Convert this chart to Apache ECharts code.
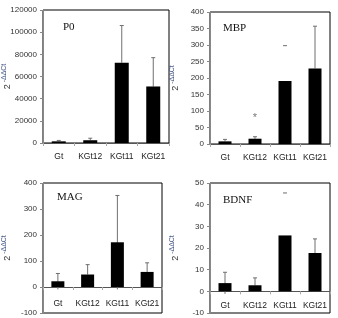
<!DOCTYPE html>
<html>
<head>
<meta charset="utf-8">
<script src="https://cdn.jsdelivr.net/npm/echarts@6/dist/echarts.min.js"></script>
<style>
  html, body { margin: 0; padding: 0; background: #fff; }
  #chart { width: 338px; height: 318px; }
</style>
</head>
<body>
<div id="chart"></div>
<script>
  // categories shared by all four panels
  const categories = ['Gt', 'KGt12', 'KGt11', 'KGt21'];

  // P0
  const p0Values = [1500, 2500, 72500, 51000];
  const p0ErrHigh = [2300, 4300, 106000, 77000];
  const p0Ticks = [0, 20000, 40000, 60000, 80000, 100000, 120000];

  // MBP
  const mbpValues = [8, 16, 191, 229];
  const mbpErrHigh = [14, 22, 298, 357];
  const mbpCapOnly = [false, false, true, false];
  const mbpStar = [[1, 78]];
  const mbpTicks = [0, 50, 100, 150, 200, 250, 300, 350, 400];

  // MAG
  const magValues = [22, 48, 172, 58];
  const magErrHigh = [52, 86, 352, 93];
  const magErrLow = [-9, null, -9, null];
  const magTicks = [-100, 0, 100, 200, 300, 400];

  // BDNF
  const bdnfValues = [3.8, 2.8, 25.8, 17.7];
  const bdnfErrHigh = [8.8, 6.2, 45.4, 24.2];
  const bdnfErrLow = [-1.2, null, null, null];
  const bdnfCapOnly = [false, false, true, false];
  const bdnfTicks = [-10, 0, 10, 20, 30, 40, 50];

  const labelFont = 'Liberation Sans, Arial, sans-serif';
  const titleFont = 'Liberation Serif, Times New Roman, serif';

  function errData(values, high, low, capOnly) {
    return values.map(function (v, i) {
      return [i, v, high[i], low && low[i] != null ? low[i] : NaN, capOnly && capOnly[i] ? 1 : 0];
    });
  }

  function errRender(params, api) {
    const x = api.value(0);
    const v = api.coord([x, api.value(1)]);
    const hi = api.coord([x, api.value(2)]);
    const lo = api.value(3);
    const capOnly = api.value(4);
    const style = { stroke: '#6f6f6f', lineWidth: 1 };
    const kids = [];
    if (!capOnly) {
      kids.push({ type: 'line', shape: { x1: v[0], y1: v[1], x2: hi[0], y2: hi[1] }, style: style });
    }
    kids.push({ type: 'line', shape: { x1: hi[0] - 2, y1: hi[1], x2: hi[0] + 2, y2: hi[1] }, style: style });
    if (!isNaN(lo)) {
      const l = api.coord([x, lo]);
      kids.push({ type: 'line', shape: { x1: v[0], y1: v[1], x2: l[0], y2: l[1] }, style: style });
    }
    return { type: 'group', children: kids };
  }

  function yAxis(idx, ticks) {
    return {
      gridIndex: idx,
      type: 'value',
      min: ticks[0],
      max: ticks[ticks.length - 1],
      interval: ticks[1] - ticks[0],
      splitLine: { show: false },
      axisLine: { show: true, lineStyle: { color: '#888' } },
      axisTick: { show: true, length: 3, lineStyle: { color: '#888' } },
      axisLabel: {
        fontSize: 8, color: '#333', fontFamily: labelFont, margin: 6,
        formatter: function (v) { return String(v); }
      },
      name: '{a|2}{b| -ΔΔCt}',
      nameLocation: 'middle',
      nameRotate: 90,
      nameGap: idx % 2 === 0 ? 31 : 30,
      nameMoveOverlap: false,
      nameTextStyle: {
        color: '#333',
        fontFamily: labelFont,
        rich: {
          a: { fontSize: 9, color: '#333', fontFamily: labelFont, verticalAlign: 'bottom' },
          b: { fontSize: 7, color: '#4a5a8a', fontFamily: labelFont, verticalAlign: 'top', padding: [0, 0, 4, 0] }
        }
      }
    };
  }

  function xAxis(idx, margin) {
    return {
      gridIndex: idx,
      type: 'category',
      data: categories,
      axisLine: { show: true, onZero: true, lineStyle: { color: '#555' } },
      axisTick: { show: true, length: 3, lineStyle: { color: '#aaa' } },
      axisLabel: { fontSize: 8.5, color: '#222', fontFamily: labelFont, margin: margin, interval: 0 }
    };
  }

  function bars(idx, values, width) {
    return {
      type: 'bar',
      xAxisIndex: idx,
      yAxisIndex: idx,
      data: values,
      barWidth: width,
      itemStyle: { color: '#000' },
      z: 3
    };
  }

  function errs(idx, values, high, low, capOnly) {
    return {
      type: 'custom',
      xAxisIndex: idx,
      yAxisIndex: idx,
      data: errData(values, high, low, capOnly),
      renderItem: errRender,
      z: 2
    };
  }

  const gridBase = {
    show: true, borderColor: '#000', borderWidth: 1, backgroundColor: '#fff',
    containLabel: false, outerBoundsMode: 'none'
  };

  const chart = echarts.init(document.getElementById('chart'), null, { renderer: 'canvas' });

  const option = {
    animation: false,
    backgroundColor: '#fff',
    title: [
      { text: 'P0', left: 58, top: 17, textStyle: { fontFamily: titleFont, fontSize: 11, fontWeight: 'normal', color: '#111' } },
      { text: 'MBP', left: 218, top: 18, textStyle: { fontFamily: titleFont, fontSize: 11, fontWeight: 'normal', color: '#111' } },
      { text: 'MAG', left: 52, top: 187, textStyle: { fontFamily: titleFont, fontSize: 11, fontWeight: 'normal', color: '#111' } },
      { text: 'BDNF', left: 218, top: 190, textStyle: { fontFamily: titleFont, fontSize: 11, fontWeight: 'normal', color: '#111' } }
    ],
    grid: [
      Object.assign({ left: 43, top: 10, right: 169, bottom: 175 }, gridBase),
      Object.assign({ left: 210, top: 12, right: 8, bottom: 174 }, gridBase),
      Object.assign({ left: 43, top: 183, right: 176, bottom: 5 }, gridBase),
      Object.assign({ left: 210, top: 183, right: 8, bottom: 5 }, gridBase)
    ],
    xAxis: [xAxis(0, 9), xAxis(1, 9), xAxis(2, -14), xAxis(3, -12)],
    yAxis: [yAxis(0, p0Ticks), yAxis(1, mbpTicks), yAxis(2, magTicks), yAxis(3, bdnfTicks)],
    series: [
      errs(0, p0Values, p0ErrHigh, null, null),
      bars(0, p0Values, 14),
      errs(1, mbpValues, mbpErrHigh, null, mbpCapOnly),
      bars(1, mbpValues, 13),
      {
        type: 'scatter',
        xAxisIndex: 1,
        yAxisIndex: 1,
        data: mbpStar,
        symbolSize: 1,
        itemStyle: { color: 'rgba(0,0,0,0)' },
        label: { show: true, position: 'inside', formatter: '*', fontSize: 11, color: '#555', fontFamily: labelFont }
      },
      errs(2, magValues, magErrHigh, magErrLow, null),
      bars(2, magValues, 13),
      errs(3, bdnfValues, bdnfErrHigh, bdnfErrLow, bdnfCapOnly),
      bars(3, bdnfValues, 13)
    ]
  };

  chart.setOption(option);
</script>
</body>
</html>
